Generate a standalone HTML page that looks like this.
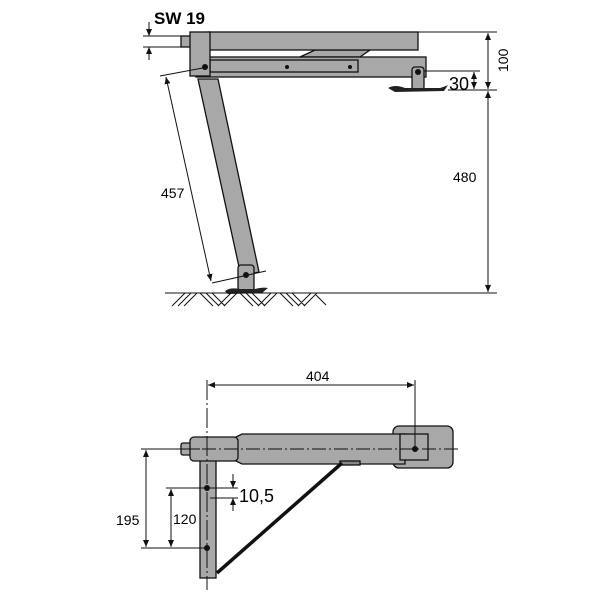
<!DOCTYPE html>
<html><head><style>html,body{margin:0;padding:0;background:#fff}svg{display:block}</style></head>
<body>
<svg width="600" height="600" viewBox="0 0 600 600" xmlns="http://www.w3.org/2000/svg" font-family="Liberation Sans, sans-serif">
<defs><marker id="a" markerWidth="8" markerHeight="8" refX="7" refY="3" orient="auto-start-reverse"><path d="M0,0 L7,3 L0,6z" fill="#111"/></marker></defs>
<g stroke="#111" fill="#a8a8a8" stroke-width="1.3">
<rect x="181" y="36" width="10" height="11"/>
<polygon points="300,57 315,50 370,50 360,57"/>
<rect x="208" y="32" width="210" height="18"/>
<rect x="196" y="57" width="230" height="20"/>
<rect x="210" y="60" width="148" height="12"/>
<rect x="190" y="32" width="20" height="44"/>
<polygon points="198,79 218,79 259,272 241,276"/>
<rect x="238" y="265" width="16" height="26" rx="3"/>
<rect x="412" y="67" width="12" height="23" rx="3"/>
</g>
<path d="M388,88 Q395,84 405,88 L440,88 Q446,86 448,85 L444,91 L395,92 Z" fill="#222"/>
<path d="M225,291 Q230,287 240,289 L255,289 Q262,287 268,288 L262,293 L228,294Z" fill="#222"/>
<g fill="#111"><circle cx="205" cy="67" r="3"/><circle cx="287" cy="67" r="2"/><circle cx="350" cy="67" r="2"/><circle cx="418" cy="72" r="3"/><circle cx="246" cy="275" r="3"/></g>
<g stroke="#111" stroke-width="1" fill="none">
<line x1="165" y1="293" x2="325" y2="293"/>
<path d="M172,306 l13,-13 M178,306 l13,-13 M184,306 l13,-13 M200,293 l13,13 M206,293 l13,13 M212,293 l13,13 M218,306 l13,-13 M224,306 l13,-13 M240,293 l13,13 M246,293 l13,13 M252,293 l13,13 M258,306 l13,-13 M264,306 l13,-13 M280,293 l13,13 M286,293 l13,13 M292,293 l13,13 M298,306 l13,-13 M304,306 l13,-13 M316,295 l10,10"/>
<line x1="160" y1="76" x2="208" y2="67"/>
<line x1="212" y1="283" x2="266" y2="271"/>
<line x1="166" y1="77" x2="211" y2="281" marker-start="url(#a)" marker-end="url(#a)"/>
<line x1="418" y1="32" x2="497" y2="32"/>
<line x1="448" y1="90" x2="497" y2="90"/>
<line x1="300" y1="293" x2="497" y2="293"/>
<line x1="488" y1="33" x2="488" y2="89" marker-start="url(#a)" marker-end="url(#a)"/>
<line x1="488" y1="91" x2="488" y2="292" marker-start="url(#a)" marker-end="url(#a)"/>
<line x1="424" y1="71" x2="480" y2="71"/>
<line x1="474" y1="72" x2="474" y2="89" marker-start="url(#a)" marker-end="url(#a)"/>
<line x1="143" y1="36" x2="182" y2="36"/><line x1="143" y1="47" x2="182" y2="47"/>
<line x1="149" y1="22" x2="149" y2="36" marker-end="url(#a)"/>
<line x1="149" y1="60" x2="149" y2="47" marker-end="url(#a)"/>
</g>
<text x="154" y="24" font-size="17" font-weight="bold">SW 19</text>
<text x="161" y="198" font-size="14">457</text>
<text x="453" y="182" font-size="14">480</text>
<text x="0" y="0" font-size="14" transform="translate(508,72) rotate(-90)">100</text>
<text x="449" y="90" font-size="18">30</text>
<g stroke="#111" fill="#a8a8a8" stroke-width="1.3">
<rect x="181" y="443" width="10" height="12" rx="2"/>
<rect x="393" y="426" width="60" height="42" rx="6"/>
<path d="M236,437 L242,434 L405,434 L405,464 L242,464 L236,461Z"/>
<rect x="400" y="434" width="28" height="26"/>
<rect x="200" y="440" width="16" height="138"/>
<rect x="190" y="437" width="48" height="24" rx="4"/>
<rect x="340" y="461" width="20" height="4" fill="#888"/>
</g>
<line x1="217" y1="573" x2="342" y2="463" stroke="#111" stroke-width="3.5"/>
<g fill="#111"><circle cx="207" cy="488" r="3"/><circle cx="207" cy="548" r="3"/><circle cx="415" cy="449" r="3"/></g>
<g stroke="#111" stroke-width="1" fill="none">
<line x1="180" y1="449" x2="458" y2="449" stroke-dasharray="14,3,2,3"/>
<line x1="207" y1="380" x2="207" y2="590" stroke-dasharray="20,3,2,3"/>
<line x1="415" y1="380" x2="415" y2="450"/>
<line x1="208" y1="385" x2="414" y2="385" marker-start="url(#a)" marker-end="url(#a)"/>
<line x1="141" y1="449" x2="200" y2="449"/>
<line x1="141" y1="548" x2="207" y2="548"/>
<line x1="166" y1="488" x2="238" y2="488"/>
<line x1="146" y1="450" x2="146" y2="547" marker-start="url(#a)" marker-end="url(#a)"/>
<line x1="171" y1="489" x2="171" y2="547" marker-start="url(#a)" marker-end="url(#a)"/>
<line x1="210" y1="498" x2="238" y2="498"/>
<line x1="233" y1="474" x2="233" y2="488" marker-end="url(#a)"/>
<line x1="233" y1="511" x2="233" y2="498" marker-end="url(#a)"/>
</g>
<text x="306" y="381" font-size="14">404</text>
<text x="116" y="525" font-size="14">195</text>
<text x="173" y="524" font-size="14">120</text>
<text x="239" y="502" font-size="18">10,5</text>
</svg>
</body></html>
